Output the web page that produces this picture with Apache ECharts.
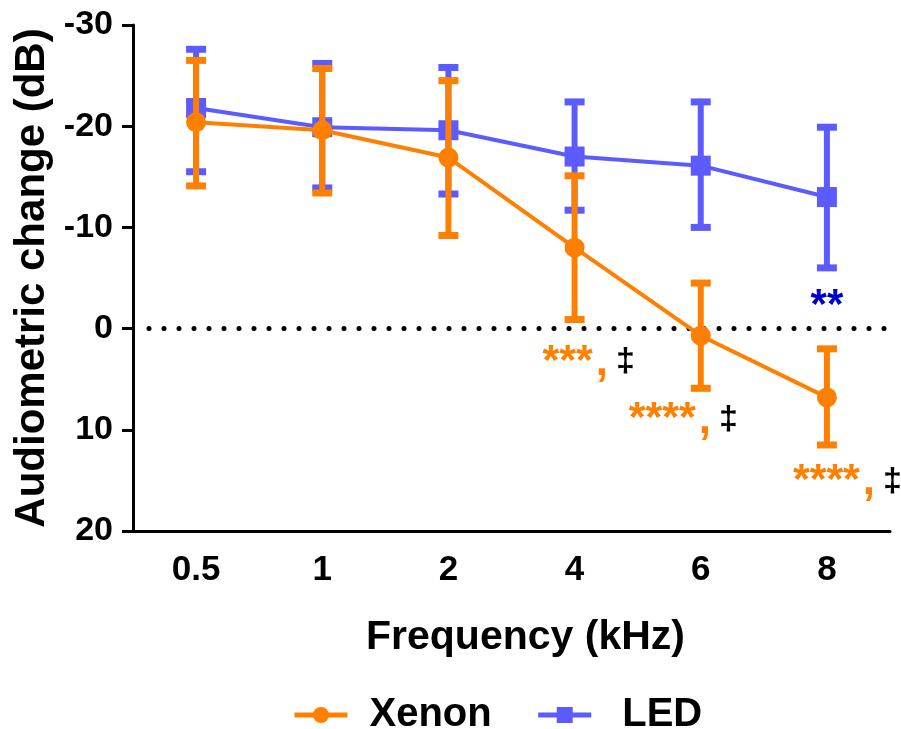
<!DOCTYPE html>
<html>
<head>
<meta charset="utf-8">
<script src="https://cdn.jsdelivr.net/npm/echarts@6/dist/echarts.min.js"></script>
<style>
  html, body { margin: 0; padding: 0; background: #fff; }
  #chart { width: 901px; height: 729px; }
</style>
</head>
<body>
<div id="chart"></div>
<script>
  // frequencies (kHz)
  const freqs = ['0.5', '1', '2', '4', '6', '8']
  // mean audiometric change and error limits (dB)
  const xenonMean = [-20.4, -19.6, -16.9, -8.0, 0.7, 6.8]
  const xenonLow = [-26.5, -25.7, -24.5, -15.1, -4.5, 2.0]
  const xenonHigh = [-14.1, -13.4, -9.2, -0.9, 5.9, 11.5]
  const ledMean = [-21.8, -19.9, -19.6, -17.0, -16.1, -13.0]
  const ledLow = [-27.6, -26.2, -25.8, -22.4, -22.4, -19.9]
  const ledHigh = [-15.5, -13.9, -13.3, -11.7, -10.0, -6.0]
  // reference line
  const zeroLine = [0]
  // significance marks
  const xenonMarkCats = ['4', '6', '8']
  const xenonMarkVals = [2.7, 8.4, 14.5]
  const xenonMarkStars = ['***', '****', '****']
  const ledMarkCats = ['8']
  const ledMarkVals = [-3]
  const ledMarkStars = ['**']

  const ORANGE = '#FF8000'
  const BLUE = '#5B5BFF'
  const FONT = 'Liberation Sans, Arial, sans-serif'

  function errData(low, high) {
    return freqs.map((f, i) => [i, low[i], high[i]])
  }

  function errorBar(color) {
    return function (params, api) {
      const x = api.value(0)
      const p1 = api.coord([x, api.value(1)])
      const p2 = api.coord([x, api.value(2)])
      const half = 10
      const st = { stroke: color, lineWidth: 6 }
      const cap = { stroke: color, lineWidth: 7 }
      return {
        type: 'group',
        children: [
          { type: 'line', shape: { x1: p1[0], y1: p1[1], x2: p2[0], y2: p2[1] }, style: st },
          { type: 'line', shape: { x1: p1[0] - half, y1: p1[1], x2: p1[0] + half, y2: p1[1] }, style: cap },
          { type: 'line', shape: { x1: p2[0] - half, y1: p2[1], x2: p2[0] + half, y2: p2[1] }, style: cap }
        ]
      }
    }
  }

  // dotted horizontal line across the plot (round dots every 15px)
  function dottedLine(params, api) {
    const y = api.coord([0, api.value(0)])[1]
    const cs = params.coordSys
    const dots = []
    for (let x = cs.x + 16; x <= cs.x + cs.width + 3; x += 15) {
      dots.push({ type: 'circle', shape: { cx: x, cy: y, r: 2.5 }, style: { fill: '#000' } })
    }
    return { type: 'group', children: dots }
  }

  // label shifts for the significance marks
  const markOffsets = [[-32, 0], [-72, 0], [-34, 0]]

  const option = {
    animation: false,
    grid: { left: 133, right: 11, top: 25, bottom: 198 },
    legend: {
      data: [
        { name: 'Xenon', textStyle: { padding: [0, 0, 0, 17] } },
        { name: 'LED', textStyle: { padding: [0, 0, 0, 26] } }
      ],
      left: 287,
      top: 690,
      itemWidth: 53,
      itemHeight: 20,
      itemGap: 44,
      lineStyle: { width: 5 },
      textStyle: { fontFamily: FONT, fontSize: 40, fontWeight: 'bold', color: '#000' }
    },
    xAxis: {
      type: 'category',
      data: freqs,
      boundaryGap: true,
      name: 'Frequency (kHz)',
      nameLocation: 'middle',
      nameGap: 86,
      nameTextStyle: { fontFamily: FONT, fontSize: 41, fontWeight: 'bold', color: '#000', padding: [0, 0, 0, 28] },
      axisLine: { onZero: false, lineStyle: { color: '#000', width: 3 } },
      axisTick: { alignWithLabel: true, length: 12, lineStyle: { color: '#000', width: 3 } },
      axisLabel: { fontFamily: FONT, fontSize: 35, fontWeight: 'bold', color: '#000', margin: 22 }
    },
    yAxis: {
      type: 'value',
      inverse: true,
      min: -30,
      max: 20,
      interval: 10,
      name: 'Audiometric change (dB)',
      nameLocation: 'middle',
      nameGap: 80,
      nameTextStyle: { fontFamily: FONT, fontSize: 42, fontWeight: 'bold', color: '#000' },
      splitLine: { show: false },
      axisLine: { show: true, lineStyle: { color: '#000', width: 3 } },
      axisTick: { show: true, length: 11, lineStyle: { color: '#000', width: 3 } },
      axisLabel: { fontFamily: FONT, fontSize: 34, fontWeight: 'bold', color: '#000', margin: 20 }
    },
    series: [
      {
        name: 'zero',
        type: 'custom',
        renderItem: dottedLine,
        encode: { y: 0 },
        data: zeroLine.map(v => [v]),
        silent: true,
        z: 1
      },
      {
        name: 'LED-err',
        type: 'custom',
        renderItem: errorBar(BLUE),
        encode: { x: 0, y: [1, 2] },
        data: errData(ledLow, ledHigh),
        z: 2
      },
      {
        name: 'LED',
        type: 'line',
        data: ledMean,
        symbol: 'rect',
        symbolSize: 20,
        color: BLUE,
        lineStyle: { width: 4, color: BLUE },
        itemStyle: { color: BLUE },
        z: 3
      },
      {
        name: 'Xenon-err',
        type: 'custom',
        renderItem: errorBar(ORANGE),
        encode: { x: 0, y: [1, 2] },
        data: errData(xenonLow, xenonHigh),
        z: 4
      },
      {
        name: 'Xenon',
        type: 'line',
        data: xenonMean,
        symbol: 'circle',
        symbolSize: 20,
        color: ORANGE,
        lineStyle: { width: 4, color: ORANGE },
        itemStyle: { color: ORANGE },
        z: 5
      },
      {
        name: 'xenon-marks',
        type: 'scatter',
        symbolSize: 0,
        silent: true,
        itemStyle: { opacity: 1 },
        z: 6,
        data: xenonMarkCats.map((c, i) => ({
          value: [c, xenonMarkVals[i]],
          label: {
            show: true,
            position: 'inside',
            align: 'left',
            verticalAlign: 'middle',
            opacity: 1,
            offset: markOffsets[i],
            formatter: '{a|' + xenonMarkStars[i] + '}{c|,}{d|‡}',
            rich: {
              a: { fontFamily: FONT, fontSize: 43, fontWeight: 'bold', color: ORANGE, padding: [12, 0, 0, 0] },
              c: { fontFamily: FONT, fontSize: 44, fontWeight: 'bold', color: ORANGE, padding: [14, 0, 0, 3] },
              d: { fontFamily: FONT, fontSize: 34, fontWeight: 'bold', color: '#000', padding: [12, 0, 0, 8] }
            }
          }
        }))
      },
      {
        name: 'led-marks',
        type: 'scatter',
        symbolSize: 0,
        silent: true,
        itemStyle: { opacity: 1 },
        z: 6,
        data: ledMarkCats.map((c, i) => ({
          value: [c, ledMarkVals[i]],
          label: {
            show: true,
            position: 'inside',
            formatter: ledMarkStars[i],
            fontFamily: FONT,
            fontSize: 42,
            fontWeight: 'bold',
            color: '#0000CC',
            opacity: 1,
            offset: [0, 8]
          }
        }))
      }
    ]
  }

  const chart = echarts.init(document.getElementById('chart'))
  chart.setOption(option)
  window.onresize = () => {
    chart.resize()
  }
</script>
</body>
</html>
